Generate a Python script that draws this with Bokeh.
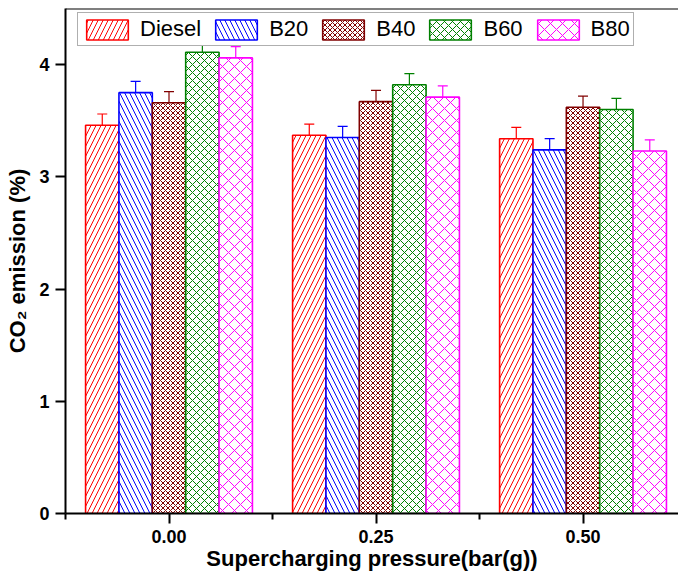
from bokeh.plotting import figure
from bokeh.models import (ColumnDataSource, Range1d, FixedTicker, Whisker, TeeHead,
                          Span, Legend, LegendItem)
from bokeh.embed import file_html
from bokeh.resources import INLINE

# ---- data ----
pressure = [0.0, 0.25, 0.50]
pressure_labels = ["0.00", "0.25", "0.50"]
series_names = ["Diesel", "B20", "B40", "B60", "B80"]
diesel = [3.46, 3.37, 3.34]
b20 = [3.75, 3.35, 3.24]
b40 = [3.66, 3.67, 3.62]
b60 = [4.11, 3.82, 3.60]
b80 = [4.06, 3.71, 3.23]
diesel_err = [0.10, 0.10, 0.10]
b20_err = [0.10, 0.10, 0.10]
b40_err = [0.10, 0.10, 0.10]
b60_err = [0.10, 0.10, 0.10]
b80_err = [0.10, 0.10, 0.10]
y_ticks = [0, 1, 2, 3, 4]

values = [diesel, b20, b40, b60, b80]
errors = [diesel_err, b20_err, b40_err, b60_err, b80_err]

# ---- styles ----
colors = ["#FF0000", "#0000FF", "#800000", "#008000", "#FF00FF"]
patterns = ["right_diagonal_line", "left_diagonal_line", "diagonal_cross",
            "diagonal_cross", "diagonal_cross"]
scales = [10, 10, 5, 8, 12]
bar_w = 0.25 * 0.806 / 5

p = figure(width=678, height=578, output_backend="svg", toolbar_location=None,
           x_range=Range1d(-0.125, 0.6153), y_range=Range1d(0, 4.5),
           min_border_left=65, min_border_right=0, min_border_top=8,
           min_border_bottom=65)
p.background_fill_color = "white"
p.border_fill_color = "white"
p.outline_line_color = None
p.xgrid.visible = False
p.ygrid.visible = False

renderers = []
for i, (name, vals, errs, c, pat, sc) in enumerate(
        zip(series_names, values, errors, colors, patterns, scales)):
    xs = [x + (i - 2) * bar_w for x in pressure]
    src = ColumnDataSource(dict(x=xs, top=vals,
                                upper=[v + e for v, e in zip(vals, errs)],
                                lower=[v - e for v, e in zip(vals, errs)]))
    r = p.vbar(x="x", top="top", width=bar_w, bottom=0, source=src,
               fill_color="white", line_color=c, line_width=1.6,
               hatch_pattern=pat, hatch_color=c, hatch_scale=sc, hatch_weight=1)
    renderers.append((name, r))
    w = Whisker(base="x", upper="upper", lower="lower", source=src,
                line_color=c, line_width=1.2,
                upper_head=TeeHead(size=10, line_color=c, line_width=1.2),
                lower_head=TeeHead(size=10, line_color=c, line_width=1.2))
    p.add_layout(w)

# top frame line
p.add_layout(Span(location=4.5, dimension="width", line_color="black", line_width=2))

# axes
font = "Liberation Sans"
for ax in (p.xaxis[0], p.yaxis[0]):
    ax.axis_line_width = 2
    ax.axis_line_color = "black"
    ax.major_tick_line_width = 2
    ax.minor_tick_line_width = 2
    ax.major_tick_in = 0
    ax.minor_tick_in = 0
    ax.major_label_text_font = font
    ax.major_label_text_font_style = "bold"
    ax.major_label_text_color = "black"
    ax.axis_label_text_font = font
    ax.axis_label_text_font_style = "bold"
    ax.axis_label_text_color = "black"
    ax.axis_label_text_font_size = "22px"

p.xaxis.ticker = FixedTicker(ticks=pressure,
                             minor_ticks=[-0.125, 0.125, 0.375, 0.625])
p.xaxis.major_label_overrides = {x: lab for x, lab in zip(pressure, pressure_labels)}
p.xaxis.major_tick_out = 10
p.xaxis.minor_tick_out = 6
p.xaxis.major_label_text_font_size = "18px"
p.xaxis.major_label_standoff = 6
p.xaxis.axis_label = "Supercharging pressure(bar(g))"
p.xaxis.axis_label_standoff = 0

p.yaxis.ticker = FixedTicker(ticks=y_ticks)
p.yaxis.minor_tick_line_color = None
p.yaxis.major_tick_out = 10
p.yaxis.major_label_text_font_size = "18px"
p.yaxis.major_label_standoff = 6
p.yaxis.axis_label = "CO\u2082 emission (%)"
p.yaxis.axis_label_standoff = 6

legend = Legend(items=[LegendItem(label=n, renderers=[r]) for n, r in renderers],
                orientation="horizontal", location=(12, 467),
                glyph_width=52, glyph_height=25, label_standoff=7, spacing=9,
                padding=3, margin=0,
                label_text_font=font, label_text_font_size="22px",
                label_text_color="black",
                border_line_color="#606060", border_line_width=1.5,
                background_fill_color="white", background_fill_alpha=1)
p.add_layout(legend)

open("out.html", "w").write(file_html(p, INLINE))
